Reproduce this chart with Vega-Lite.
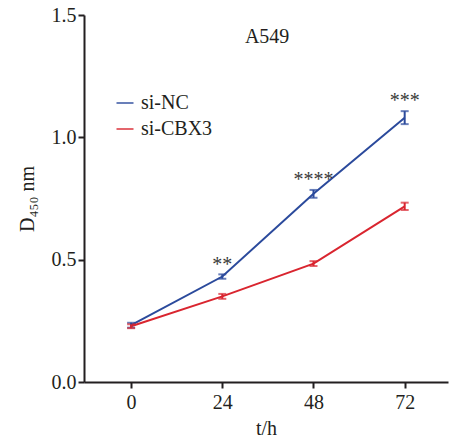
{
  "$schema": "https://vega.github.io/schema/vega-lite/v6.json",
  "width": 364,
  "height": 367,
  "autosize": {"type": "none"},
  "padding": {"left": 84, "top": 15, "right": 1, "bottom": 57},
  "background": "white",
  "config": {
    "view": {"stroke": null},
    "font": "Liberation Serif",
    "axis": {
      "labelFont": "Liberation Serif",
      "titleFont": "Liberation Serif",
      "labelFontSize": 20,
      "titleFontSize": 20,
      "titleFontWeight": "normal",
      "labelColor": "#231f20",
      "titleColor": "#231f20",
      "domainColor": "#231f20",
      "tickColor": "#231f20",
      "domainWidth": 2,
      "tickWidth": 2,
      "tickSize": 6,
      "grid": false
    },
    "legend": {
      "labelFont": "Liberation Serif",
      "labelFontSize": 20,
      "labelColor": "#231f20"
    }
  },
  "datasets": {
    "main": [
      {"t": 0, "group": "si-NC", "mean": 0.232, "lo": 0.222, "hi": 0.242},
      {"t": 24, "group": "si-NC", "mean": 0.431, "lo": 0.422, "hi": 0.44},
      {"t": 48, "group": "si-NC", "mean": 0.769, "lo": 0.753, "hi": 0.785},
      {"t": 72, "group": "si-NC", "mean": 1.08, "lo": 1.054, "hi": 1.107},
      {"t": 0, "group": "si-CBX3", "mean": 0.228, "lo": 0.22, "hi": 0.236},
      {"t": 24, "group": "si-CBX3", "mean": 0.35, "lo": 0.34, "hi": 0.36},
      {"t": 48, "group": "si-CBX3", "mean": 0.484, "lo": 0.474, "hi": 0.494},
      {"t": 72, "group": "si-CBX3", "mean": 0.718, "lo": 0.703, "hi": 0.733}
    ],
    "stars": [
      {"t": 24, "y": 0.455, "label": "**"},
      {"t": 48, "y": 0.8, "label": "****"},
      {"t": 72, "y": 1.125, "label": "***"}
    ],
    "title": [
      {"t": 35.8, "y": 1.41, "label": "A549"}
    ]
  },
  "layer": [
    {
      "data": {"name": "main"},
      "mark": {"type": "line", "strokeWidth": 2},
      "encoding": {
        "x": {
          "field": "t", "type": "quantitative",
          "scale": {"domain": [-12.4, 83.4], "nice": false, "zero": false},
          "axis": {"values": [0, 24, 48, 72], "title": "t/h", "titlePadding": 6, "labelPadding": 4}
        },
        "y": {
          "field": "mean", "type": "quantitative", "title": "D₄₅₀ nm",
          "scale": {"domain": [0, 1.5], "nice": false},
          "axis": {"values": [0, 0.5, 1, 1.5], "format": ".1f", "title": "D₄₅₀ nm", "titlePadding": 14, "labelPadding": 2}
        },
        "color": {
          "field": "group", "type": "nominal",
          "scale": {"domain": ["si-NC", "si-CBX3"], "range": ["#2b4a9c", "#d9252f"]},
          "legend": {
            "title": null,
            "orient": "none",
            "legendX": 31,
            "legendY": 78,
            "symbolType": "stroke",
            "symbolSize": 289,
            "symbolStrokeWidth": 2,
            "labelOffset": 6,
            "rowPadding": 6
          }
        }
      }
    },
    {
      "data": {"name": "main"},
      "mark": {"type": "errorbar", "thickness": 2, "ticks": {"size": 8, "thickness": 2}},
      "encoding": {
        "x": {"field": "t", "type": "quantitative"},
        "y": {"field": "lo", "type": "quantitative", "title": "D₄₅₀ nm"},
        "y2": {"field": "hi"},
        "color": {"field": "group", "type": "nominal"}
      }
    },
    {
      "data": {"name": "stars"},
      "mark": {"type": "text", "fontSize": 20, "font": "Liberation Serif", "color": "#3a3a3a", "baseline": "alphabetic", "align": "center"},
      "encoding": {
        "x": {"field": "t", "type": "quantitative"},
        "y": {"field": "y", "type": "quantitative"},
        "text": {"field": "label"}
      }
    },
    {
      "data": {"name": "title"},
      "mark": {"type": "text", "fontSize": 20, "font": "Liberation Serif", "color": "#231f20", "baseline": "middle", "align": "center"},
      "encoding": {
        "x": {"field": "t", "type": "quantitative"},
        "y": {"field": "y", "type": "quantitative"},
        "text": {"field": "label"}
      }
    }
  ]
}
